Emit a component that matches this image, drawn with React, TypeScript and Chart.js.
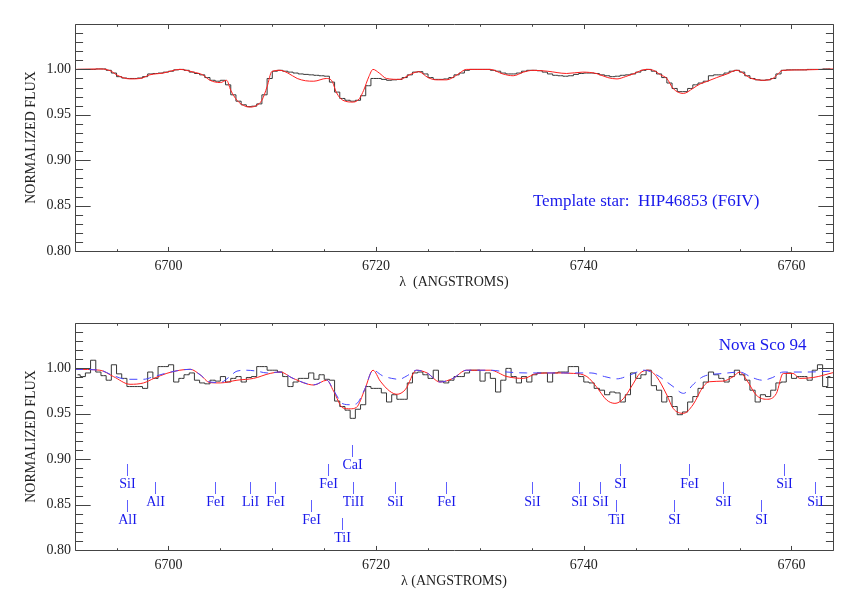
import React, { useEffect, useRef } from "react";
import { Chart, registerables } from "chart.js";

Chart.register(...registerables);

const SERIF = "'Liberation Serif', 'Times New Roman', Times, serif";
const X_MIN = 6691;
const X_MAX = 6764;
const Y_MIN = 0.8;
const Y_MAX = 1.05;
const BIN_START = 6691.25;
const BIN_WIDTH = 0.5;

const xTickValues = [6700, 6720, 6740, 6760];
const yTickValues = [0.8, 0.85, 0.9, 0.95, 1.0];

// Template star (top panel), binned spectrum
const templateFlux = [
  1.000, 1.000, 1.000, 1.000, 1.0005, 1.0005, 0.999, 0.996, 0.992, 0.9905,
  0.990, 0.990, 0.9905, 0.992, 0.995, 0.9955, 0.996, 0.997, 0.998, 0.9995,
  1.000, 0.999, 0.997, 0.9955, 0.994, 0.991, 0.988, 0.987, 0.988, 0.983,
  0.972, 0.965, 0.961, 0.959, 0.9595, 0.962, 0.972, 0.990, 0.998, 0.999,
  0.998, 0.997, 0.996, 0.995, 0.9945, 0.994, 0.9935, 0.993, 0.9925, 0.986,
  0.975, 0.968, 0.966, 0.965, 0.966, 0.971, 0.982, 0.990, 0.990, 0.989,
  0.988, 0.9885, 0.989, 0.991, 0.994, 0.997, 0.9975, 0.995, 0.991, 0.989,
  0.989, 0.9895, 0.991, 0.994, 0.996, 0.999, 1.000, 1.000, 1.000, 1.000,
  0.999, 0.998, 0.996, 0.995, 0.995, 0.996, 0.998, 0.999, 0.999, 0.9985,
  0.997, 0.995, 0.9935, 0.993, 0.9925, 0.993, 0.9945, 0.9955, 0.996, 0.996,
  0.9955, 0.994, 0.993, 0.992, 0.9925, 0.9935, 0.994, 0.995, 0.997, 0.999,
  1.000, 0.998, 0.995, 0.991, 0.985, 0.979, 0.9755, 0.9755, 0.979, 0.983,
  0.985, 0.987, 0.993, 0.994, 0.994, 0.996, 0.998, 0.999, 0.997, 0.993,
  0.990, 0.9885, 0.988, 0.9885, 0.990, 0.995, 0.999, 0.9995, 0.9995, 0.9995,
  0.9995, 1.000, 1.000, 1.000, 1.0005, 1.0005,
];

// Template star fit (red, top panel)
const templateFitWave = [
  6691.0, 6693.5, 6694.5, 6695.0, 6696.3, 6697.3, 6698.2, 6699.5, 6701.1, 6702.4,
  6703.3, 6704.0, 6705.0, 6705.6, 6706.0, 6706.6, 6707.2, 6707.9, 6708.5, 6709.0,
  6709.5, 6709.95, 6710.75, 6711.5, 6712.4, 6713.2, 6714.0, 6715.2, 6715.7, 6716.2,
  6716.8, 6717.8, 6718.4, 6718.8, 6719.3, 6719.7, 6720.3, 6721.0, 6722.3, 6723.2,
  6724.1, 6725.0, 6725.8, 6726.8, 6727.8, 6728.7, 6731.0, 6732.2, 6733.2, 6734.2,
  6735.1, 6736.5, 6738.35, 6739.9, 6741.2, 6742.3, 6743.2, 6744.0, 6744.75, 6746.0,
  6746.7, 6747.4, 6748.0, 6748.6, 6749.6, 6750.5, 6751.2, 6751.8, 6752.8, 6753.8,
  6754.7, 6755.2, 6755.8, 6756.3, 6757.3, 6758.2, 6759.2, 6761.4, 6764.0,
];
const templateFitFlux = [
  1.000, 1.0005, 0.998, 0.994, 0.9895, 0.990, 0.994, 0.996, 1.000, 0.997,
  0.994, 0.988, 0.9855, 0.988, 0.977, 0.966, 0.9605, 0.9585, 0.9605, 0.966,
  0.981, 0.9975, 0.999, 0.996, 0.990, 0.9875, 0.987, 0.990, 0.988, 0.974,
  0.966, 0.964, 0.968, 0.977, 0.992, 1.000, 0.996, 0.990, 0.989, 0.994,
  0.9975, 0.991, 0.9885, 0.9885, 0.994, 1.000, 1.000, 0.995, 0.993, 0.997,
  0.999, 0.998, 0.9955, 0.997, 0.9955, 0.991, 0.9895, 0.992, 0.995, 1.000,
  0.999, 0.994, 0.990, 0.979, 0.9735, 0.979, 0.984, 0.9865, 0.991, 0.995,
  0.999, 0.997, 0.992, 0.9895, 0.988, 0.990, 0.999, 0.9995, 1.0005,
];

// Nova Sco 94 (bottom panel), binned spectrum
const novaFlux = [
  0.993, 0.991, 0.995, 1.009, 0.996, 0.992, 0.987, 1.004, 0.994, 0.989,
  0.980, 0.980, 0.980, 0.978, 0.996, 0.989, 1.002, 1.002, 1.004, 0.985,
  0.989, 0.993, 0.995, 0.987, 0.984, 0.983, 0.987, 0.986, 0.991, 0.985,
  0.989, 0.991, 0.985, 0.990, 0.991, 1.002, 1.002, 0.998, 0.998, 0.996,
  0.991, 0.980, 0.985, 0.989, 0.989, 0.995, 0.988, 0.993, 0.988, 0.987,
  0.964, 0.958, 0.954, 0.945, 0.955, 0.960, 0.980, 0.978, 0.978, 0.973,
  0.963, 0.971, 0.966, 0.966, 0.984, 0.995, 0.996, 0.993, 0.989, 0.998,
  0.986, 0.984, 0.987, 0.991, 0.991, 0.995, 0.998, 0.998, 0.986, 0.995,
  0.989, 0.974, 0.987, 1.000, 0.991, 0.984, 0.991, 0.985, 0.993, 0.995,
  0.995, 0.985, 0.995, 0.996, 0.996, 1.002, 1.002, 0.991, 0.985, 0.984,
  0.978, 0.976, 0.971, 0.974, 0.973, 0.963, 0.971, 0.995, 0.989, 0.993,
  0.998, 0.981, 0.976, 0.963, 0.969, 0.958, 0.949, 0.952, 0.963, 0.969,
  0.978, 0.985, 0.996, 0.993, 0.989, 0.985, 0.991, 0.998, 0.993, 0.987,
  0.976, 0.963, 0.971, 0.969, 0.976, 0.984, 0.985, 0.995, 0.989, 0.991,
  0.991, 0.987, 0.998, 1.004, 0.980, 0.991,
];

// Broadened template fit (red, bottom panel)
const novaFitWave = [
  6691.0, 6693.4, 6694.7, 6696.3, 6697.6, 6698.6, 6699.85, 6701.1, 6702.1, 6703.05,
  6704.0, 6705.0, 6706.6, 6708.2, 6709.8, 6710.75, 6712.0, 6714.0, 6715.25, 6715.9,
  6716.8, 6717.5, 6718.1, 6718.9, 6719.7, 6720.4, 6721.3, 6722.0, 6722.8, 6723.9,
  6724.9, 6726.15, 6727.4, 6728.7, 6731.0, 6732.6, 6734.2, 6735.5, 6737.1, 6739.0,
  6740.3, 6741.2, 6742.2, 6743.0, 6743.8, 6744.75, 6745.4, 6746.2, 6747.0, 6748.0,
  6748.6, 6749.6, 6750.5, 6751.5, 6752.1, 6753.4, 6754.4, 6755.0, 6755.7, 6756.6,
  6757.6, 6758.55, 6759.2, 6760.15, 6760.8, 6762.1, 6764.0,
];
const novaFitFlux = [
  0.999, 0.998, 0.991, 0.9825, 0.984, 0.989, 0.9946, 0.998, 0.999, 0.993,
  0.9843, 0.984, 0.987, 0.989, 0.9945, 0.996, 0.989, 0.9817, 0.987, 0.975,
  0.9565, 0.9555, 0.957, 0.9765, 0.998, 0.986, 0.975, 0.9715, 0.9765, 0.998,
  0.995, 0.985, 0.989, 0.998, 0.998, 0.991, 0.989, 0.9945, 0.995, 0.9945,
  0.991, 0.980, 0.9652, 0.9615, 0.9665, 0.983, 0.9945, 0.998, 0.991, 0.9707,
  0.956, 0.9505, 0.9597, 0.980, 0.9853, 0.986, 0.991, 0.996, 0.987, 0.9707,
  0.966, 0.9725, 0.9945, 0.9945, 0.989, 0.990, 0.9953,
];

// Unbroadened template (blue dashed, bottom panel)
const novaTemplateWave = [
  6691.0, 6693.4, 6694.7, 6696.0, 6697.6, 6698.6, 6699.85, 6701.1, 6702.1, 6703.05,
  6704.0, 6705.0, 6705.8, 6706.6, 6707.5, 6708.5, 6709.5, 6710.75, 6712.0, 6714.0,
  6715.25, 6715.9, 6716.8, 6717.5, 6718.1, 6718.9, 6719.7, 6720.6, 6721.5, 6722.2,
  6723.0, 6723.9, 6724.9, 6726.15, 6727.4, 6728.7, 6731.0, 6732.6, 6734.5, 6737.0,
  6739.0, 6740.7, 6742.0, 6743.2, 6744.5, 6745.8, 6747.0, 6748.0, 6748.6, 6749.6,
  6750.6, 6751.5, 6753.5, 6755.0, 6756.2, 6757.2, 6758.2, 6759.2, 6761.4, 6764.0,
];
const novaTemplateFlux = [
  0.999, 0.998, 0.992, 0.988, 0.988, 0.991, 0.995, 0.998, 0.999, 0.993,
  0.985, 0.9845, 0.990, 0.997, 0.998, 0.997, 0.995, 0.996, 0.989, 0.982,
  0.987, 0.976, 0.961, 0.960, 0.961, 0.977, 0.998, 0.992, 0.989, 0.988,
  0.992, 0.998, 0.995, 0.985, 0.989, 0.998, 0.998, 0.996, 0.995, 0.995,
  0.995, 0.995, 0.991, 0.9885, 0.993, 0.998, 0.993, 0.985, 0.980, 0.9725,
  0.983, 0.991, 0.9945, 0.996, 0.990, 0.987, 0.990, 0.996, 0.996, 0.997,
];

// Line identifications
const lineNames = [
  "SiI", "AlI", "AlI", "FeI", "LiI", "FeI", "FeI", "FeI", "CaI", "TiII", "TiI", "SiI",
  "FeI", "SiI", "SiI", "SiI", "SI", "TiI", "FeI", "SI", "SiI", "SI", "SiI", "SiI",
];
const lineWaves = [
  6696.05, 6696.0, 6698.67, 6704.47, 6707.85, 6710.3, 6713.76, 6715.4, 6717.7, 6717.8, 6716.7, 6721.85,
  6726.7, 6735.0, 6739.5, 6741.6, 6743.5, 6743.1, 6750.15, 6748.7, 6753.4, 6757.1, 6759.3, 6762.3,
];
const lineFlux = [
  0.882, 0.842, 0.862, 0.862, 0.862, 0.862, 0.842, 0.882, 0.902, 0.862, 0.822, 0.862,
  0.862, 0.862, 0.862, 0.862, 0.882, 0.842, 0.882, 0.842, 0.862, 0.842, 0.882, 0.862,
];

const templateLabel = "Template star:  HIP46853 (F6IV)";
const templateLabelPos = [6735.1, 0.8496];
const novaLabel = "Nova Sco 94";
const novaLabelPos = [6753.0, 1.02];

const BLUE = "rgb(25,25,235)";
const RED = "rgb(255,30,30)";
const BLACK = "rgb(55,55,55)";

const toBins = (vals: number[]) => vals.map((y, i) => ({ x: BIN_START + i * BIN_WIDTH, y }));
const toPoints = (w: number[], f: number[]) => w.map((x, i) => ({ x, y: f[i] }));

const framePlugin = {
  id: "idlFrame",
  afterDraw(chart: any) {
    const { ctx, chartArea: a, scales } = chart;
    const xs = scales.x;
    const ys = scales.y;
    const L = Math.round(a.left) + 0.5;
    const R = Math.round(a.right) + 0.5;
    const T = Math.round(a.top) + 0.5;
    const B = Math.round(a.bottom) + 0.5;
    const w = R - L;
    const h = B - T;
    ctx.save();
    ctx.strokeStyle = "#444";
    ctx.lineWidth = 1;
    ctx.beginPath();
    ctx.rect(L, T, w, h);
    // x ticks (5 A minor, 20 A major)
    for (let v = Math.ceil(xs.min / 5) * 5; v <= xs.max; v += 5) {
      const px = Math.round(xs.getPixelForValue(v)) + 0.5;
      const len = v % 20 === 0 ? 0.02 * h : 0.01 * h;
      ctx.moveTo(px, B);
      ctx.lineTo(px, B - len);
      ctx.moveTo(px, T);
      ctx.lineTo(px, T + len);
    }
    // y ticks (0.01 minor, 0.05 major)
    for (let k = Math.round(ys.min * 100); k <= Math.round(ys.max * 100); k++) {
      const py = Math.round(ys.getPixelForValue(k / 100)) + 0.5;
      const len = k % 5 === 0 ? 0.02 * w : 0.01 * w;
      ctx.moveTo(L, py);
      ctx.lineTo(L + len, py);
      ctx.moveTo(R, py);
      ctx.lineTo(R - len, py);
    }
    ctx.stroke();
    ctx.restore();
  },
};

function makeTextPlugin(kind: "top" | "bottom") {
  return {
    id: "texts_" + kind,
    afterDraw(chart: any) {
      const { ctx, chartArea: a, scales } = chart;
      const xs = scales.x;
      const ys = scales.y;
      ctx.save();
      // axis titles
      ctx.fillStyle = "#222";
      ctx.font = `14px ${SERIF}`;
      ctx.textAlign = "center";
      ctx.textBaseline = "middle";
      ctx.fillText(kind === "top" ? "λ  (ANGSTROMS)" : "λ (ANGSTROMS)", (a.left + a.right) / 2, a.bottom + 31);
      ctx.save();
      ctx.translate(31, (a.top + a.bottom) / 2);
      ctx.rotate(-Math.PI / 2);
      ctx.fillText("NORMALIZED FLUX", 0, 0);
      ctx.restore();

      ctx.fillStyle = BLUE;
      ctx.font = `17px ${SERIF}`;
      ctx.textAlign = "left";
      ctx.textBaseline = "alphabetic";
      if (kind === "top") {
        ctx.fillText(templateLabel, xs.getPixelForValue(templateLabelPos[0]), ys.getPixelForValue(templateLabelPos[1]));
      } else {
        ctx.fillText(novaLabel, xs.getPixelForValue(novaLabelPos[0]), ys.getPixelForValue(novaLabelPos[1]));
        ctx.font = `14px ${SERIF}`;
        ctx.textAlign = "center";
        ctx.strokeStyle = "rgba(40,40,255,0.75)";
        ctx.lineWidth = 1;
        for (let i = 0; i < lineNames.length; i++) {
          const px = Math.round(xs.getPixelForValue(lineWaves[i])) + 0.5;
          const py = Math.round(ys.getPixelForValue(lineFlux[i]));
          ctx.beginPath();
          ctx.moveTo(px, py - 12);
          ctx.lineTo(px, py);
          ctx.stroke();
          ctx.fillText(lineNames[i], px, py + 12);
        }
      }
      ctx.restore();
    },
  };
}

function buildConfig(datasets: any[], canvasH: number, topPad: number, bottomY: number, kind: "top" | "bottom") {
  return {
    type: "line",
    data: { datasets },
    options: {
      animation: false,
      responsive: false,
      devicePixelRatio: 1,
      events: [],
      layout: { padding: { top: topPad, right: 23, left: 0, bottom: 0 } },
      plugins: { legend: { display: false }, tooltip: { enabled: false }, title: { display: false } },
      elements: { point: { radius: 0 }, line: { borderWidth: 1 } },
      scales: {
        x: {
          type: "linear",
          min: X_MIN,
          max: X_MAX,
          grid: { display: false, drawTicks: false },
          border: { display: false },
          afterBuildTicks: (s: any) => {
            s.ticks = xTickValues.map((v) => ({ value: v }));
          },
          afterFit: (s: any) => {
            s.height = canvasH - bottomY;
          },
          ticks: {
            padding: 7,
            color: "#222",
            font: { family: SERIF, size: 14 },
            maxRotation: 0,
            autoSkip: false,
            callback: (v: any) => String(v),
          },
        },
        y: {
          type: "linear",
          min: Y_MIN,
          max: Y_MAX,
          grid: { display: false, drawTicks: false },
          border: { display: false },
          afterBuildTicks: (s: any) => {
            s.ticks = yTickValues.map((v) => ({ value: v }));
          },
          afterFit: (s: any) => {
            s.width = 75;
          },
          ticks: {
            padding: 4,
            color: "#222",
            font: { family: SERIF, size: 14 },
            autoSkip: false,
            callback: (v: any) => Number(v).toFixed(2),
          },
        },
      },
    },
    plugins: [framePlugin, makeTextPlugin(kind)],
  };
}

export default function App() {
  const topRef = useRef<HTMLCanvasElement>(null);
  const botRef = useRef<HTMLCanvasElement>(null);

  useEffect(() => {
    const top = new Chart(
      topRef.current as HTMLCanvasElement,
      buildConfig(
        [
          { data: toPoints(templateFitWave, templateFitFlux), borderColor: RED, borderWidth: 1, cubicInterpolationMode: "monotone", pointRadius: 0 },
          { data: toBins(templateFlux), borderColor: BLACK, borderWidth: 1, stepped: "middle", pointRadius: 0 },
        ],
        300,
        24,
        251,
        "top"
      ) as any
    );
    const bot = new Chart(
      botRef.current as HTMLCanvasElement,
      buildConfig(
        [
          { data: toPoints(novaTemplateWave, novaTemplateFlux), borderColor: "rgb(70,70,255)", borderWidth: 1, borderDash: [8, 6], cubicInterpolationMode: "monotone", pointRadius: 0 },
          { data: toPoints(novaFitWave, novaFitFlux), borderColor: RED, borderWidth: 1, cubicInterpolationMode: "monotone", pointRadius: 0 },
          { data: toBins(novaFlux), borderColor: BLACK, borderWidth: 1, stepped: "middle", pointRadius: 0 },
        ],
        299,
        23,
        250,
        "bottom"
      ) as any
    );
    return () => {
      top.destroy();
      bot.destroy();
    };
  }, []);

  return (
    <div style={{ position: "absolute", left: 0, top: 0, width: 856, height: 599, background: "#fff" }}>
      <canvas ref={topRef} width={856} height={300} style={{ position: "absolute", left: 0, top: 0, display: "block" }} />
      <canvas ref={botRef} width={856} height={299} style={{ position: "absolute", left: 0, top: 300, display: "block" }} />
    </div>
  );
}
